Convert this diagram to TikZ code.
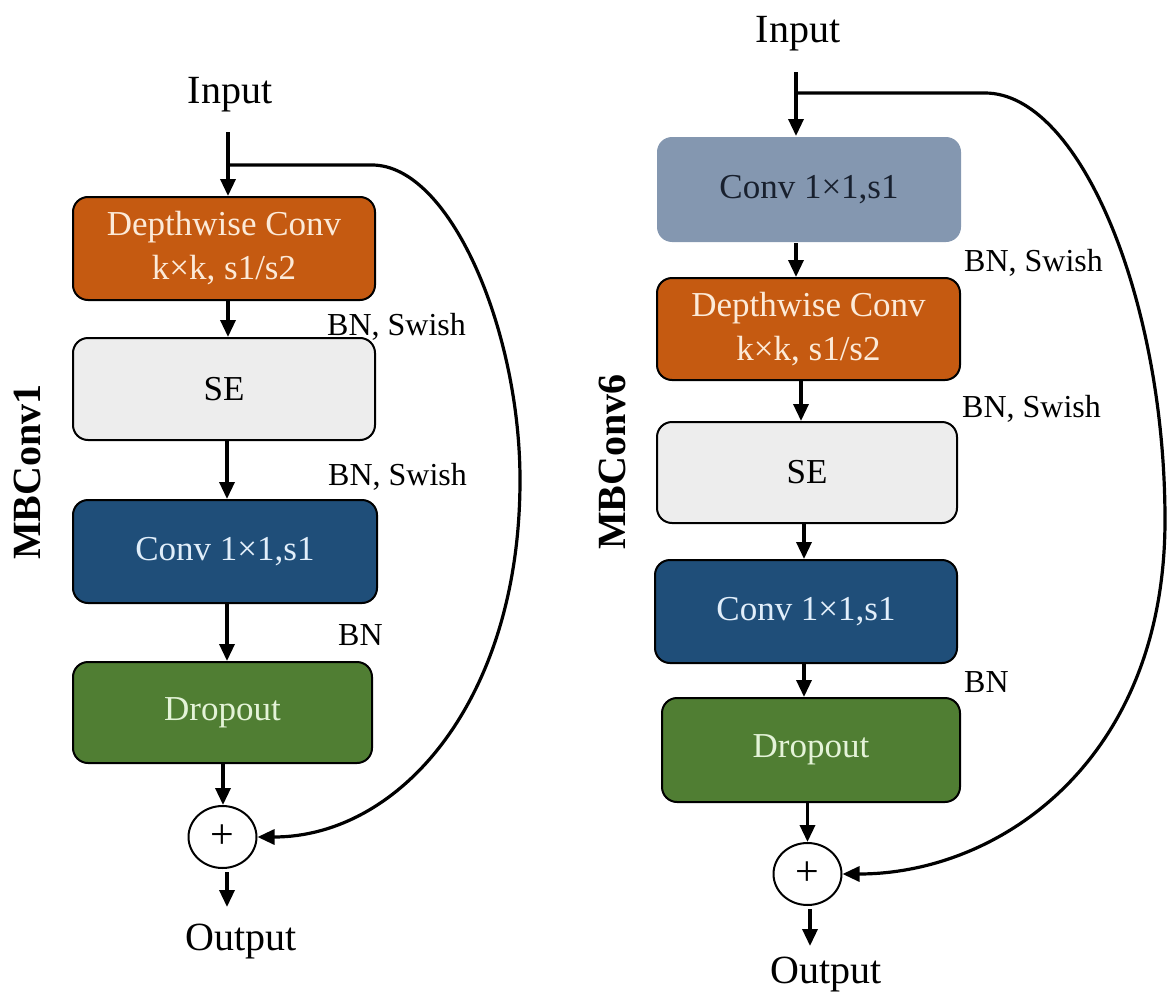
\documentclass[tikz,border=0pt]{standalone}
\usepackage{fontspec}
\setmainfont{Liberation Serif}
\usetikzlibrary{arrows.meta,shapes.geometric}

\definecolor{dworange}{HTML}{C55A11}
\definecolor{dwtext}{HTML}{FCEAD8}
\definecolor{segray}{HTML}{EDEDED}
\definecolor{convblue}{HTML}{1F4E79}
\definecolor{convtext}{HTML}{E1EEFA}
\definecolor{dropgreen}{HTML}{507E33}
\definecolor{droptext}{HTML}{E4F3D8}
\definecolor{expgray}{HTML}{8497B0}
\definecolor{exptext}{HTML}{18202E}

\begin{document}
\begin{tikzpicture}[x=1pt,y=-1pt,
  block/.style={draw=black, line width=2pt, rounded corners=15pt,
    minimum width=302pt, minimum height=103pt, inner sep=0pt, align=center,
    font=\fontsize{35}{44}\selectfont},
  dwblock/.style={block, fill=dworange, text=dwtext},
  seblock/.style={block, fill=segray, text=black},
  convblock/.style={block, fill=convblue, text=convtext},
  dropblock/.style={block, fill=dropgreen, text=droptext},
  expblock/.style={block, draw=none, fill=expgray, text=exptext},
  sumnode/.style={ellipse, draw=black, line width=2pt, minimum width=68pt,
    minimum height=62pt, inner sep=0pt, font=\fontsize{42}{44}\selectfont},
  io/.style={anchor=base, inner sep=0pt, font=\fontsize{40}{48}\selectfont},
  note/.style={anchor=base west, inner sep=0pt, font=\fontsize{32}{38}\selectfont},
  title/.style={rotate=90, inner sep=0pt, font=\bfseries\fontsize{40}{48}\selectfont},
  flow/.style={line width=3.4pt, -{Triangle[length=17pt,width=15pt]}},
  skip/.style={line width=3.2pt, -{Triangle[length=17pt,width=15pt]}},
]
\path[use as bounding box] (0,0) rectangle (1168,993);

% ---------------- MBConv1 ----------------
\node[io] (lin) at (230,103) {Input};
\coordinate (lstart) at (228,132);
\coordinate (lbr) at (228,165);
\node[dwblock] (ldw) at (224,248.5) {Depthwise Conv\\k×k, s1/s2};
\node[seblock, minimum height=102pt] (lse) at (224,389) {SE};
\node[convblock, minimum width=304pt] (lconv) at (225,551.5) {Conv 1×1,s1};
\node[dropblock, minimum width=299pt, minimum height=101pt] (ldrop) at (222.5,712.5) {Dropout};
\node[sumnode] (lplus) at (222.5,837) {+};
\coordinate (lout) at (227,907);
\node[io] (loutput) at (241,950) {Output};

\node[note] (ln1) at (327,335) {BN, Swish};
\node[note] (ln2) at (328,485) {BN, Swish};
\node[note] (ln3) at (338,645) {BN};
\node[title] (ltitle) at (27,472) {MBConv1};

\draw[flow] (lstart) -- (lstart |- ldw.north);
\draw[flow] (228,0 |- ldw.south) -- (228,0 |- lse.north);
\draw[flow] (227,0 |- lse.south) -- (227,0 |- lconv.north);
\draw[flow] (227,0 |- lconv.south) -- (227,0 |- ldrop.north);
\draw[flow] (223,0 |- ldrop.south) -- (223,0 |- lplus.north);
\draw[flow] (227,0 |- lplus.south) ++(0,3) -- (lout);
\draw[skip] (lbr) -- (372,165)
  .. controls (450,165) and (520,330) .. (520,480)
  .. controls (520,700) and (400,837) .. (lplus.east);

% ---------------- MBConv6 ----------------
\node[io] (rin) at (798,42) {Input};
\coordinate (rstart) at (796,72);
\coordinate (rbr) at (796,93);
\node[expblock, minimum width=304pt, minimum height=105pt] (rexp) at (809,189.5) {Conv 1×1,s1};
\node[dwblock, minimum width=303pt, minimum height=102pt] (rdw) at (808.5,329) {Depthwise Conv\\k×k, s1/s2};
\node[seblock, minimum width=300pt, minimum height=101pt] (rse) at (807,472.5) {SE};
\node[convblock] (rconv) at (806,611.5) {Conv 1×1,s1};
\node[dropblock, minimum width=298pt, minimum height=104pt] (rdrop) at (811,750) {Dropout};
\node[sumnode] (rplus) at (807.5,874) {+};
\coordinate (rout) at (810,946);
\node[io] (routput) at (826,983) {Output};

\node[note] (rn1) at (964,271) {BN, Swish};
\node[note] (rn2) at (962,417) {BN, Swish};
\node[note] (rn3) at (964,692) {BN};
\node[title] (rtitle) at (612,462) {MBConv6};

\draw[flow] (rstart) -- (rstart |- rexp.north);
\draw[flow] (796,0 |- rexp.south) -- (796,0 |- rdw.north);
\draw[flow] (801,0 |- rdw.south) -- (801,0 |- rse.north);
\draw[flow] (804,0 |- rse.south) -- (804,0 |- rconv.north);
\draw[flow] (804,0 |- rconv.south) -- (804,0 |- rdrop.north);
\draw[flow] (807.5,0 |- rdrop.south) -- (807.5,0 |- rplus.north);
\draw[flow] (810,0 |- rplus.south) ++(0,3) -- (rout);
\draw[skip] (rbr) -- (985,93)
  .. controls (1080,93) and (1165,300) .. (1165,520)
  .. controls (1165,760) and (1000,874) .. (rplus.east);
\end{tikzpicture}
\end{document}
